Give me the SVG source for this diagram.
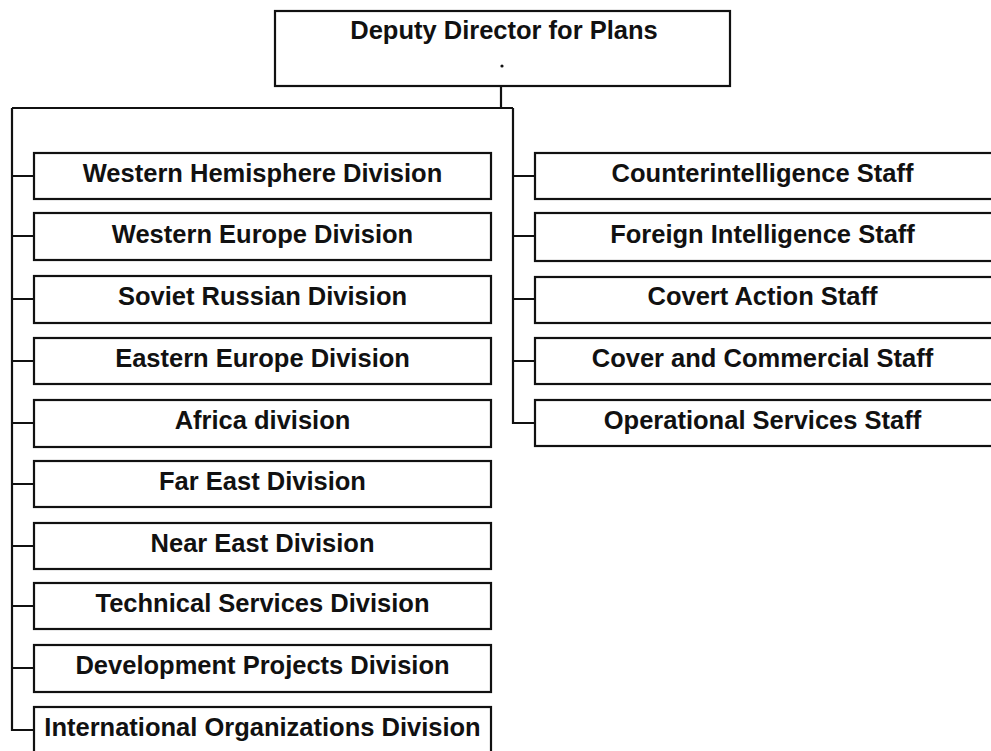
<svg xmlns="http://www.w3.org/2000/svg" width="991" height="751" viewBox="0 0 991 751">
<style>
.box{fill:#fff;stroke:#111;stroke-width:2.2}
.lbl{font-family:"Liberation Sans",Arial,sans-serif;font-weight:bold;font-size:25.5px;fill:#111;text-anchor:middle}
.ln{fill:none;stroke:#111;stroke-width:2.2}
</style>
<rect width="991" height="751" fill="#fff"/>
<g id="connectors">
<path class="ln" d="M501 86 V108 M12 108 H513 M12 108 V730 H34 M513 108 V423 H535"/>
<path class="ln" d="M12 176 H34 M12 236 H34 M12 299 H34 M12 361 H34 M12 423 H34 M12 484 H34 M12 546 H34 M12 606 H34 M12 668 H34"/>
<path class="ln" d="M513 176 H535 M513 236 H535 M513 299 H535 M513 361 H535"/>
</g>
<g id="ddp"><rect class="box" x="275" y="11" width="455" height="75"/><text class="lbl" x="504" y="39">Deputy Director for Plans</text><circle cx="502" cy="66" r="1.6" fill="#111"/></g>
<g id="whd"><rect class="box" x="34" y="153" width="457" height="46"/><text class="lbl" x="262.5" y="182">Western Hemisphere Division</text></g>
<g id="wed"><rect class="box" x="34" y="213" width="457" height="47"/><text class="lbl" x="262.5" y="243">Western Europe Division</text></g>
<g id="srd"><rect class="box" x="34" y="276" width="457" height="47"/><text class="lbl" x="262.5" y="305">Soviet Russian Division</text></g>
<g id="eed"><rect class="box" x="34" y="338" width="457" height="46"/><text class="lbl" x="262.5" y="367">Eastern Europe Division</text></g>
<g id="afd"><rect class="box" x="34" y="400" width="457" height="47"/><text class="lbl" x="262.5" y="429">Africa division</text></g>
<g id="fed"><rect class="box" x="34" y="461" width="457" height="46"/><text class="lbl" x="262.5" y="490">Far East Division</text></g>
<g id="ned"><rect class="box" x="34" y="523" width="457" height="46"/><text class="lbl" x="262.5" y="552">Near East Division</text></g>
<g id="tsd"><rect class="box" x="34" y="583" width="457" height="46"/><text class="lbl" x="262.5" y="612">Technical Services Division</text></g>
<g id="dpd"><rect class="box" x="34" y="645" width="457" height="47"/><text class="lbl" x="262.5" y="674">Development Projects Division</text></g>
<g id="iod"><rect class="box" x="34" y="707" width="457" height="60"/><text class="lbl" x="262.5" y="736">International Organizations Division</text></g>
<g id="cis"><rect class="box" x="535" y="153" width="460" height="46"/><text class="lbl" x="762.5" y="182">Counterintelligence Staff</text></g>
<g id="fis"><rect class="box" x="535" y="213" width="460" height="48"/><text class="lbl" x="762.5" y="243">Foreign Intelligence Staff</text></g>
<g id="cas"><rect class="box" x="535" y="277" width="460" height="46"/><text class="lbl" x="762.5" y="305">Covert Action Staff</text></g>
<g id="ccs"><rect class="box" x="535" y="338" width="460" height="46"/><text class="lbl" x="762.5" y="367">Cover and Commercial Staff</text></g>
<g id="oss"><rect class="box" x="535" y="400" width="460" height="46"/><text class="lbl" x="762.5" y="429">Operational Services Staff</text></g>
</svg>
